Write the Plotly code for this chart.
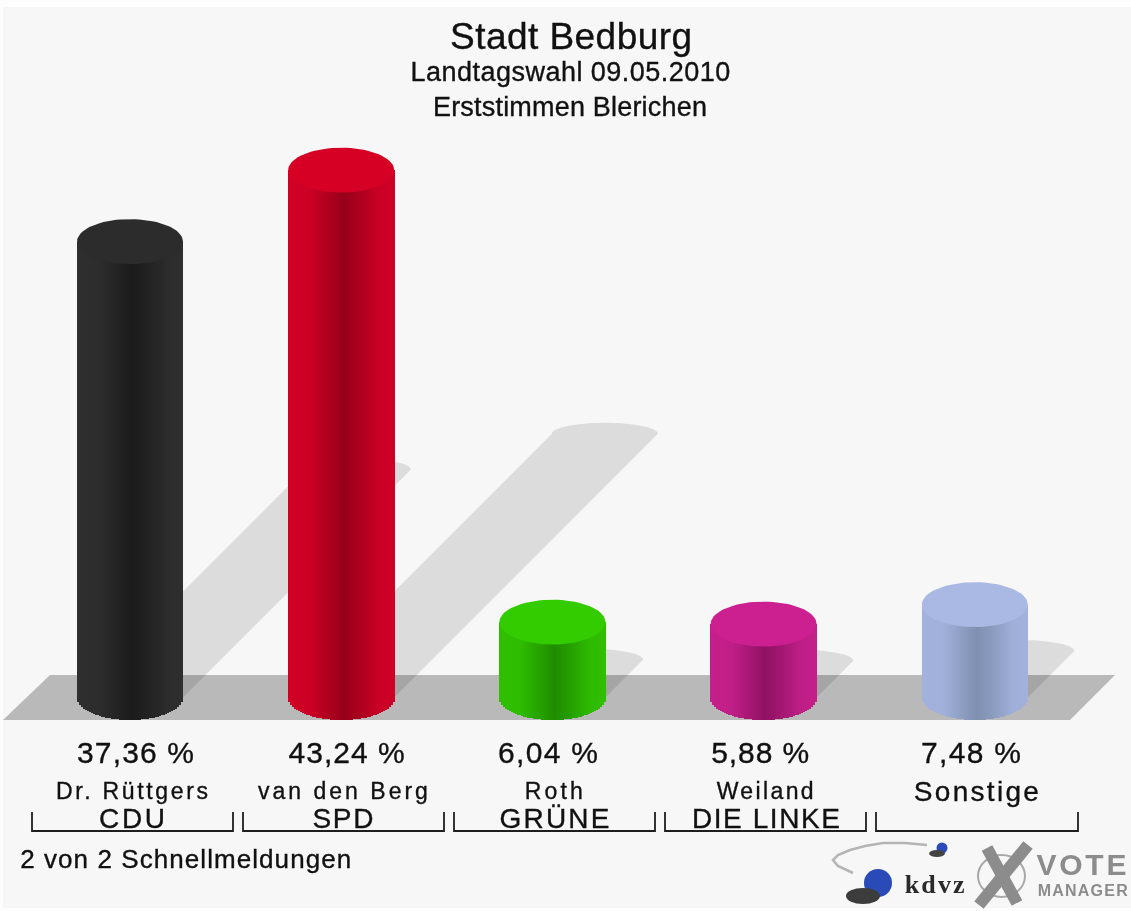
import json
import math
import plotly.graph_objects as go

candidates = ["Dr. Rüttgers", "van den Berg", "Roth", "Weiland", "Sonstige"]
parties = ["CDU", "SPD", "GRÜNE", "DIE LINKE", ""]
values = [37.36, 43.24, 6.04, 5.88, 7.48]
lid_colors = ["#2c2c2c", "#d60024", "#33cc00", "#cc2090", "#a9b9e4"]
edge_colors = ["#2e2e2e", "#cf0025", "#2fbf00", "#c41f8a", "#a2b2dc"]
dark_colors = ["#1b1b1b", "#96001a", "#1f8c00", "#8f1262", "#7f8fb0"]
percent_offsets = [6, 6, -4, -3, -3]
percent_widths = [117, 116, 100, 98, 100]
candidate_widths = [152, 170, 58, 97, 125]
party_widths = [66, 61, 110, 148, 0]

W, H = 1131, 911
X0, DX = 130.0, 211.2      # pixel of first category, pixels per category
Y0, DY = 695.5, 12.15      # pixel of value 0, pixels per percentage point
R = 53.0                   # cylinder half width (px)
RY = 22.5                  # ellipse half height (px)
BASE_PX = 697.5


def ux(px):
    return (px - X0) / DX


def uy(py):
    return (Y0 - py) / DY


def hex2rgb(c):
    return [int(c[i:i + 2], 16) for i in (1, 3, 5)]


def mix(a, b, f):
    ra, rb = hex2rgb(a), hex2rgb(b)
    return "rgb(%d,%d,%d)" % tuple(round(p + (q - p) * f) for p, q in zip(ra, rb))


def shade(t):
    # t in [-1, 1] across the cylinder; 1 = darkest
    pts = [(-1, 0.0), (-0.6, 0.05), (-0.15, 0.7), (0.04, 1.0), (0.4, 0.55), (0.7, 0.1), (1, 0.0)]
    for (a, fa), (b, fb) in zip(pts, pts[1:]):
        if a <= t <= b:
            return fa + (fb - fa) * (t - a) / (b - a)
    return 0.0


def px_x(p):
    return p / W


def px_y(p):
    return 1 - p / H


fig = go.Figure()
shapes = []

# page background
shapes.append(dict(type="rect", xref="paper", yref="paper", x0=px_x(3), x1=px_x(1131), y0=px_y(7), y1=px_y(908),
                   fillcolor="#f7f7f7", line_width=0, layer="below"))
# floor
fx = [3, 50, 1115, 1070]
fy = [720, 675, 675, 720]
path = "M " + " L ".join(f"{px_x(a)},{px_y(b)}" for a, b in zip(fx, fy)) + " Z"
shapes.append(dict(type="path", xref="paper", yref="paper", path=path, fillcolor="#b9b9b9", line_width=0, layer="below"))

# shadows (below the traces), sized from the values
for i, v in enumerate(values):
    cx = X0 + i * DX
    top = Y0 - v * DY
    d = (BASE_PX - top) / 2
    pts = [(ux(cx - R), uy(BASE_PX)), (ux(cx - R + d), uy(BASE_PX - d))]
    for k in range(41):
        a = math.pi * k / 40
        pts.append((ux(cx + d - R * math.cos(a)), uy(BASE_PX - d - 11 * math.sin(a))))
    pts.append((ux(cx + R), uy(BASE_PX)))
    p = "M " + " L ".join(f"{a:.5f},{b:.5f}" for a, b in pts) + " Z"
    shapes.append(dict(type="path", xref="x", yref="y", path=p, fillcolor="rgba(0,0,0,0.105)",
                       line_width=0, layer="below"))

# cylinder bodies: a fan of narrow bars
bx, by, bb, bc = [], [], [], []
STEP = 2.0
n = int(2 * R / STEP)
for i, v in enumerate(values):
    for k in range(n):
        t = (k + 0.5) / n * 2 - 1
        bottom = uy(BASE_PX + RY * math.sqrt(max(0, 1 - t * t)))
        bx.append(i + t * R / DX)
        bb.append(bottom)
        by.append(v - bottom)
        bc.append(mix(edge_colors[i], dark_colors[i], shade(t)))
fig.add_trace(go.Bar(x=bx, y=by, base=bb, width=(STEP + 0.6) / DX,
                     marker=dict(color=bc, line_width=0), hoverinfo="skip"))

# lids
for i, v in enumerate(values):
    xs, ys = [], []
    for k in range(73):
        a = 2 * math.pi * k / 72
        xs.append(i + R / DX * math.cos(a))
        ys.append(v + RY / DY * math.sin(a))
    fig.add_trace(go.Scatter(x=xs, y=ys, mode="lines", fill="toself", line_width=0,
                             fillcolor=lid_colors[i], hoverinfo="skip"))

# brackets
for l, r in [(32, 233), (243, 444), (454, 655), (665, 866), (876, 1078)]:
    p = f"M {px_x(l)},{px_y(812)} L {px_x(l)},{px_y(831)} L {px_x(r)},{px_y(831)} L {px_x(r)},{px_y(812)}"
    shapes.append(dict(type="path", xref="paper", yref="paper", path=p, line=dict(color="#1e1e1e", width=1.8)))

# logo: X
shapes.append(dict(type="circle", xref="paper", yref="paper", x0=px_x(978), x1=px_x(1025), y0=px_y(897), y1=px_y(855),
                   line=dict(color="#a8a8a8", width=2)))
for (a, b, c, d) in [(987, 848, 1017, 903), (1028, 845, 979, 905)]:
    p = f"M {px_x(a)},{px_y(b)} L {px_x(c)},{px_y(d)}"
    shapes.append(dict(type="path", xref="paper", yref="paper", path=p, line=dict(color="#8c8c8c", width=12)))
# logo: swoosh
sw = "M " + " L ".join(f"{px_x(a)},{px_y(b)}" for a, b in
                       [(927, 845), (905, 843), (883, 843), (865, 846), (850, 850), (838, 855), (833, 860),
                        (838, 866), (853, 873)])
shapes.append(dict(type="path", xref="paper", yref="paper", path=sw, line=dict(color="#b4b4b4", width=2.5)))
# logo: ball shadows
shapes.append(dict(type="circle", xref="paper", yref="paper", x0=px_x(846), x1=px_x(880), y0=px_y(904), y1=px_y(888),
                   fillcolor="#3c3c3c", line_width=0))
shapes.append(dict(type="circle", xref="paper", yref="paper", x0=px_x(929), x1=px_x(945), y0=px_y(857), y1=px_y(850),
                   fillcolor="#444444", line_width=0))

# logo: balls
fig.add_trace(go.Scatter(
    x=[ux(878), ux(942)], y=[uy(883), uy(848)], mode="markers", hoverinfo="skip",
    marker=dict(size=[28, 11], color="#2a4ab8", opacity=1, line_width=0)))

ann = []
widths = {}
HEAVY = []


def text(s, x, y, size, color="#111111", xref="paper", bold=False,
         family="Liberation Sans", width=None):
    ann.append(dict(text=f"<b>{s}</b>" if bold else s, x=x, y=px_y(y), xref=xref, yref="paper", xanchor="center",
                    yanchor="middle", showarrow=False, font=dict(size=size, color=color, family=family)))
    if width:
        widths[s] = width
    if not bold:
        HEAVY.append(s)


text("Stadt Bedburg", px_x(571), 36, 37, width=242)
text("Landtagswahl 09.05.2010", px_x(570), 72, 27, width=320)
text("Erststimmen Blerichen", px_x(570), 107, 27, width=274)
for i, v in enumerate(values):
    text(f"{v:.2f}".replace(".", ",") + " %", i + percent_offsets[i] / DX, 752, 30, xref="x", width=percent_widths[i])
    size = 28 if candidates[i] == "Sonstige" else 23
    text(candidates[i], i + 3 / DX, 791, size, xref="x", width=candidate_widths[i])
    if parties[i]:
        text(parties[i], i + 3 / DX, 818, 28, xref="x", width=party_widths[i])
text("2 von 2 Schnellmeldungen", px_x(186.5), 859, 26, width=331)
text("kdvz", px_x(935), 884, 26, color="#2a2a2a", bold=True, family="Liberation Serif", width=60)
text("VOTE", px_x(1083), 864, 30, color="#8c8c8c", bold=True, width=90)
text("MANAGER", px_x(1083), 890, 16, color="#8c8c8c", bold=True, width=90)

fig.update_layout(
    width=W, height=H, margin=dict(l=0, r=0, t=0, b=0), showlegend=False,
    paper_bgcolor="#fdfdfd", plot_bgcolor="rgba(0,0,0,0)", barmode="overlay", bargap=0,
    xaxis=dict(range=[ux(0), ux(W)], visible=False, fixedrange=True),
    yaxis=dict(range=[uy(H), uy(0)], visible=False, fixedrange=True),
    shapes=shapes, annotations=ann,
)

# no page margin; letter-spacing so each label spans the reference width; soft scan-like blur
post = """
document.body.style.margin = '0';
document.body.style.overflow = 'hidden';
var targets = %s;
var heavy = %s;
document.querySelectorAll('.annotation-text').forEach(function (el) {
  var s = el.textContent, w = targets[s];
  if (w && s.length > 1) {
    var cur = el.getComputedTextLength();
    el.style.letterSpacing = ((w - cur) / (s.length - 1)) + 'px';
  }
  if (heavy.indexOf(s) >= 0) {
    el.style.stroke = '#111111';
    el.style.strokeWidth = '0.35px';
  }
});
document.querySelector('.plotly-graph-div').style.filter = 'blur(0.6px)';
""" % (json.dumps(widths), json.dumps(HEAVY))
fig.write_html("out.html", config=dict(displayModeBar=False), post_script=post)
